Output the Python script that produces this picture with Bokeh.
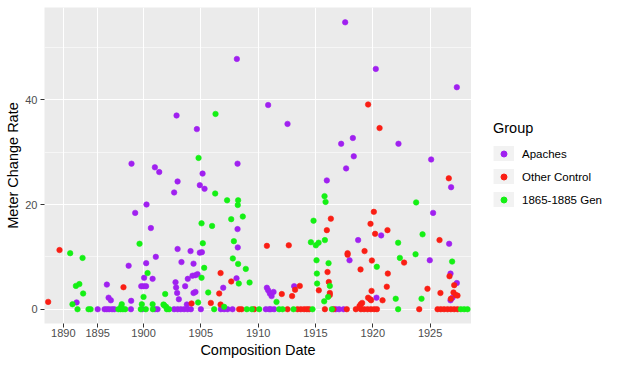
import math
from bokeh.plotting import figure
from bokeh.layouts import row
from bokeh.models import FixedTicker, Legend, LegendItem, Range1d
from bokeh.embed import file_html
from bokeh.resources import INLINE

# ---- data ----
x_tick_pos = [1893, 1896, 1900, 1905, 1910, 1915, 1920, 1925]
x_tick_labels = ["1890", "1895", "1900", "1905", "1910", "1915", "1920", "1925"]
y_ticks = [0, 20, 40]
y_minor = [10, 30, 50]

groups = ["Apaches", "Other Control", "1865-1885 Gen"]

apaches = [
    (1894.16, 1.3), (1896.0, 0), (1896.6, 0), (1896.8, 0), (1897.0, 0), (1897.25, 0), (1897.45, 0),
    (1896.8, 4.7), (1896.95, 2.2), (1897.15, 1.7), (1898.7, 8.3), (1898.95, 27.8), (1899.27, 18.4),
    (1898.92, 1.6), (1898.9, 0), (1900.26, 20.0), (1900.64, 15.5), (1900.23, 8.8), (1901.07, 10.0),
    (1900.05, 6.0), (1900.79, 5.8), (1899.8, 4.4), (1900.0, 4.4), (1900.22, 4.4), (1899.91, 0),
    (1901.0, 0), (1901.22, 0), (1900.99, 27.1), (1901.37, 26.2), (1902.67, 22.3), (1902.97, 24.4),
    (1902.88, 37.0), (1902.97, 11.5), (1902.79, 5.15), (1902.84, 4.15), (1902.93, 3.1), (1903.08, 1.9),
    (1902.67, 0), (1902.97, 0), (1903.25, 0), (1903.54, 0), (1903.84, 0), (1904.13, 0), (1903.78, 0.9),
    (1905.0, 0), (1908.14, 47.8), (1904.65, 34.4), (1908.2, 27.8), (1905.15, 25.9), (1904.91, 23.7),
    (1905.32, 23.0), (1908.2, 15.3), (1908.22, 11.8), (1904.1, 11.1), (1904.91, 10.8), (1905.09, 10.9),
    (1903.31, 9.0), (1904.36, 8.7), (1904.27, 6.4), (1904.53, 6.5), (1904.71, 6.7), (1903.86, 5.8),
    (1908.11, 5.9), (1906.95, 4.1), (1903.63, 4.4), (1904.36, 3.1), (1904.53, 3.3), (1906.74, 0),
    (1907.03, 0), (1907.33, 0), (1907.76, 0), (1910.76, 4.1), (1910.87, 3.6), (1911.02, 3.0),
    (1911.17, 2.5), (1911.34, 3.3), (1910.87, 39.0), (1912.56, 35.4), (1913.14, 4.4), (1910.67, 0),
    (1910.96, 0), (1911.1, 0), (1911.39, 0), (1917.59, 54.8), (1920.26, 45.9), (1917.24, 31.6),
    (1918.26, 32.7), (1918.34, 29.2), (1917.67, 26.9), (1922.24, 31.6), (1925.09, 28.6),
    (1915.99, 24.6), (1925.26, 18.4), (1920.73, 14.1), (1918.72, 13.2), (1917.97, 9.35),
    (1924.97, 9.35), (1920.32, 2.2), (1916.77, 0), (1917.06, 0), (1917.45, 0), (1927.33, 42.4),
    (1926.83, 23.3), (1926.66, 12.5), (1926.78, 6.8), (1927.33, 5.0), (1926.95, 2.2), (1926.78, 1.7),
]

other_control = [
    (1891.68, 1.4), (1892.67, 11.3), (1898.25, 4.2), (1904.19, 1.1), (1905.87, 1.2), (1906.72, 0.9),
    (1906.72, 6.9), (1907.65, 5.3), (1906.6, 3.0), (1908.34, 0), (1908.55, 0), (1909.65, 0),
    (1910.76, 12.1), (1912.67, 12.2), (1912.06, 2.9), (1912.96, 2.5), (1913.63, 4.45), (1913.22, 3.7),
    (1912.56, 0), (1913.43, 0), (1913.72, 0), (1914.01, 0), (1914.25, 0), (1914.45, 0), (1915.82, 0),
    (1916.57, 0), (1917.73, 0), (1918.52, 0), (1918.96, 0), (1919.24, 0), (1919.54, 0), (1919.83, 0),
    (1920.12, 0), (1920.36, 0), (1919.07, 1.2), (1918.95, 0.95), (1918.84, 0.6), (1919.59, 39.1),
    (1920.59, 34.6), (1920.09, 18.6), (1916.34, 17.3), (1915.99, 15.1), (1919.8, 16.3), (1920.2, 14.4),
    (1921.28, 15.1), (1925.82, 13.2), (1917.8, 10.7), (1917.8, 10.4), (1919.28, 11.1), (1919.92, 9.3),
    (1922.73, 8.9), (1918.93, 7.6), (1921.31, 6.8), (1916.05, 7.1), (1916.16, 5.2), (1915.29, 3.6),
    (1916.25, 3.1), (1916.25, 2.7), (1921.22, 4.3), (1919.89, 3.5), (1919.59, 2.2), (1919.77, 1.9),
    (1919.85, 1.7), (1920.85, 1.7), (1924.77, 3.9), (1925.9, 3.1), (1924.05, 0), (1926.63, 25.0),
    (1926.69, 6.3), (1927.1, 4.6), (1927.04, 3.2), (1927.24, 2.7), (1927.39, 2.6), (1926.81, 2.0),
    (1925.65, 0), (1925.93, 0), (1926.22, 0), (1926.52, 0), (1926.81, 0), (1927.1, 0), (1927.39, 0),
]

gen_1865_1885 = [
    (1893.6, 10.7), (1894.68, 9.8), (1894.1, 4.45), (1894.4, 4.8), (1894.73, 3.0), (1893.8, 0.95),
    (1894.24, 0), (1895.2, 0), (1895.38, 0), (1897.8, 0), (1898.0, 0), (1898.2, 0), (1898.4, 0),
    (1898.05, 0.5), (1898.1, 0.95), (1899.65, 12.5), (1900.35, 6.9), (1900.0, 2.35), (1899.85, 0.95),
    (1900.79, 0.95), (1901.89, 2.9), (1901.8, 0.75), (1899.76, 0), (1900.2, 0), (1900.81, 0),
    (1901.74, 0.9), (1901.97, 0.45), (1902.03, 0), (1902.23, 0), (1906.28, 37.3), (1904.8, 28.9),
    (1906.25, 22.1), (1907.29, 20.8), (1908.25, 20.8), (1908.22, 19.9), (1908.66, 17.7),
    (1907.65, 17.2), (1905.06, 16.4), (1905.98, 15.9), (1905.17, 12.6), (1907.88, 13.0),
    (1907.79, 9.7), (1908.25, 8.65), (1905.29, 7.9), (1908.92, 7.7), (1905.06, 6.0), (1908.31, 4.9),
    (1909.25, 5.1), (1905.64, 3.2), (1904.76, 1.3), (1907.03, 0.45), (1906.16, 0), (1909.01, 0),
    (1909.45, 0), (1910.09, 0), (1911.6, 1.4), (1911.83, 0), (1912.13, 0), (1913.08, 0), (1914.74, 0),
    (1916.43, 0), (1915.79, 21.6), (1915.88, 20.5), (1923.78, 20.4), (1914.83, 16.9), (1914.6, 12.8),
    (1915.03, 12.2), (1915.27, 12.7), (1915.82, 13.2), (1922.21, 12.7), (1924.34, 14.3),
    (1915.09, 9.35), (1916.14, 8.8), (1920.35, 8.1), (1922.36, 9.8), (1923.73, 10.5), (1915.12, 6.8),
    (1915.14, 4.9), (1916.25, 4.45), (1916.1, 2.35), (1915.76, 1.5), (1922.0, 2.0), (1924.25, 2.0),
    (1922.21, 0), (1926.92, 9.1), (1927.68, 0), (1927.97, 0), (1928.26, 0),
]

group_data = [apaches, other_control, gen_1865_1885]
colors = ["#A020F0", "#FA1E14", "#14F014"]

FONT = "Liberation Sans"

# ---------------- main panel ----------------
fig = figure(width=471, height=366, output_backend="svg", toolbar_location=None,
             x_range=Range1d(1891.36, 1928.61), y_range=Range1d(-2.73, 57.63),
             min_border_left=44, min_border_right=0, min_border_top=7, min_border_bottom=43,
             background_fill_color="#EBEBEB", border_fill_color="white",
             outline_line_color=None)

for ax in (fig.xaxis[0], fig.yaxis[0]):
    ax.axis_line_color = None
    ax.major_tick_line_color = "#333333"
    ax.major_tick_line_width = 1
    ax.major_tick_out = 4
    ax.major_tick_in = 0
    ax.minor_tick_line_color = None
    ax.major_label_text_font = FONT
    ax.major_label_text_font_size = "11px"
    ax.major_label_text_color = "#4D4D4D"
    ax.axis_label_text_font = FONT
    ax.axis_label_text_font_size = "14.5px"
    ax.axis_label_text_font_style = "normal"
    ax.axis_label_text_color = "black"

fig.xaxis.ticker = FixedTicker(ticks=x_tick_pos, minor_ticks=[])
fig.xaxis.major_label_overrides = {t: l for t, l in zip(x_tick_pos, x_tick_labels)}
fig.xaxis.axis_label = "Composition Date"
fig.xaxis.major_label_standoff = 1
fig.xaxis.axis_label_standoff = 2

fig.yaxis.ticker = FixedTicker(ticks=y_ticks, minor_ticks=y_minor)
fig.yaxis.axis_label = "Meter Change Rate"
fig.yaxis.major_label_standoff = 3
fig.yaxis.axis_label_standoff = 1

fig.xgrid.grid_line_color = "white"
fig.xgrid.grid_line_width = 1.1
fig.ygrid.grid_line_color = "white"
fig.ygrid.grid_line_width = 1.1
fig.ygrid.minor_grid_line_color = "white"
fig.ygrid.minor_grid_line_width = 0.55

for data, col in zip(group_data, colors):
    xs = [d[0] for d in data]
    ys = [d[1] for d in data]
    fig.scatter(xs, ys, size=5.5, fill_color=col, line_color=col, line_width=0.6)

# ---------------- legend panel ----------------
leg = figure(width=148, height=366, output_backend="svg", toolbar_location=None,
             x_range=Range1d(0, 1), y_range=Range1d(0, 1),
             x_axis_type=None, y_axis_type=None,
             min_border=0, outline_line_color=None,
             background_fill_color="white", border_fill_color="white")
leg.grid.visible = False

key_bg = leg.line([math.nan], [math.nan], line_color="#F2F2F2", line_width=21)
key_dots = [leg.scatter([math.nan], [math.nan], size=6, fill_color=c, line_color=c)
            for c in colors]

items = [LegendItem(label=g, renderers=[key_bg, r]) for g, r in zip(groups, key_dots)]
legend = Legend(items=items, title="Group", location=(22, 116),
                glyph_width=21, glyph_height=15, label_height=15,
                label_standoff=8, spacing=8, padding=0, margin=0,
                border_line_color=None, background_fill_alpha=0,
                label_text_font=FONT, label_text_font_size="11.5px",
                label_text_color="black",
                title_text_font=FONT, title_text_font_size="14.5px",
                title_text_font_style="normal", title_text_color="black",
                title_standoff=10)
leg.add_layout(legend, "center")

p = row(fig, leg, spacing=0)

open("out.html", "w").write(file_html(p, INLINE))
